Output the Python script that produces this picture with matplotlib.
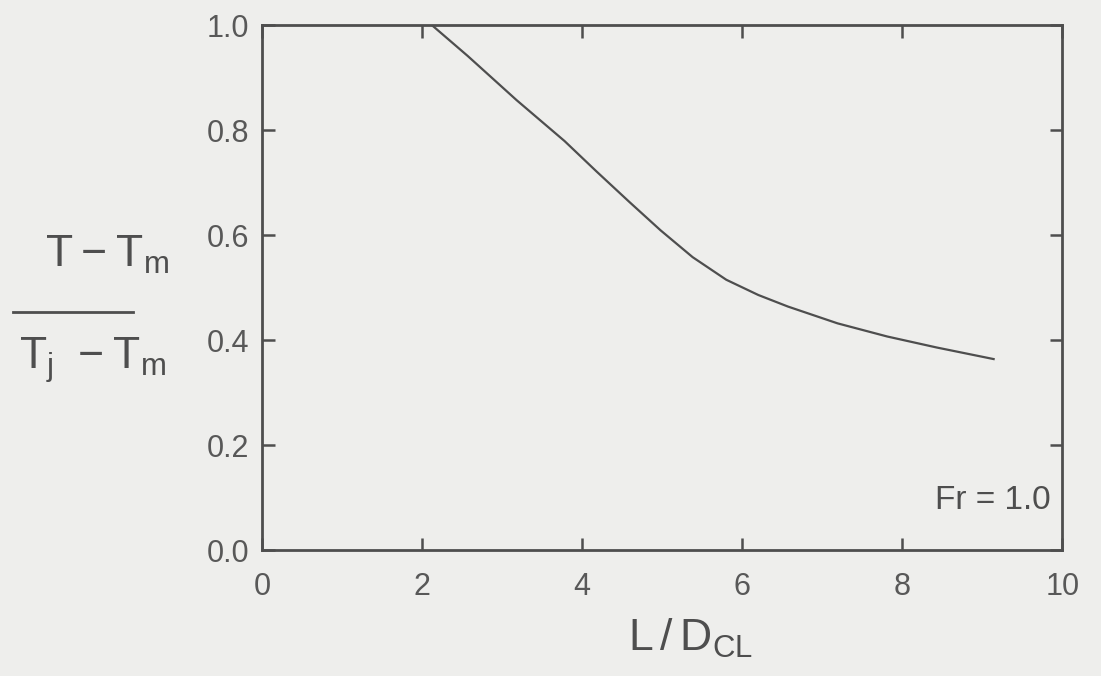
"""Normalised temperature decay along the cold leg, Fr = 1.0."""

import matplotlib

matplotlib.use("Agg")
import matplotlib.pyplot as plt
from matplotlib.lines import Line2D

# curve read along L/D_CL
l_over_d = [2.12, 2.57, 3.18, 3.78, 4.18, 4.59, 4.98, 5.38, 5.80, 6.20,
            6.57, 7.19, 7.81, 8.43, 9.14]
theta = [1.0, 0.941, 0.857, 0.779, 0.721, 0.663, 0.609, 0.558, 0.515, 0.486,
         0.464, 0.432, 0.407, 0.386, 0.364]

x_ticks = [0, 2, 4, 6, 8, 10]
y_ticks = [0.0, 0.2, 0.4, 0.6, 0.8, 1.0]
y_tick_labels = ["0.0", "0.2", "0.4", "0.6", "0.8", "1.0"]

paper = "#eeeeec"
ink = "#4e4e4e"
plt.rcParams["font.family"] = ["Liberation Sans", "DejaVu Sans"]
plt.rcParams["mathtext.default"] = "regular"

fig = plt.figure(figsize=(11.01, 6.76), dpi=100, facecolor=paper)
ax = fig.add_axes([0.238, 0.186, 0.727, 0.777])
ax.set_facecolor(paper)

ax.plot(l_over_d, theta, color=ink, lw=1.6, solid_joinstyle="round")

ax.set_xlim(0, 10)
ax.set_ylim(0, 1.0)
ax.set_xticks(x_ticks)
ax.set_yticks(y_ticks)
ax.set_yticklabels(y_tick_labels)
for sp in ax.spines.values():
    sp.set_linewidth(2.0)
    sp.set_color(ink)
ax.tick_params(direction="in", length=9, width=1.8, color=ink,
               top=True, right=True, labelsize=22, labelcolor="#585858")
ax.tick_params(axis="x", pad=16)
ax.tick_params(axis="y", pad=9)

ax.text(0.985, 0.095, "Fr = 1.0", transform=ax.transAxes, ha="right",
        va="center", fontsize=24, color=ink)

# x label
fig.text(0.627, 0.038, r"$L\,/\,D_{CL}$", ha="center", va="baseline",
         fontsize=32, color=ink)

# y label drawn as a stacked fraction
fig.text(0.097, 0.605, r"$T - T_m$", ha="center", va="baseline",
         fontsize=32, color=ink)
fig.add_artist(Line2D([0.012, 0.121], [0.539, 0.539], transform=fig.transFigure,
                      color=ink, lw=2.0))
fig.text(0.084, 0.455, r"$T_j\ - T_m$", ha="center", va="baseline",
         fontsize=32, color=ink)

fig.savefig("out.png", dpi=100, facecolor=paper)
